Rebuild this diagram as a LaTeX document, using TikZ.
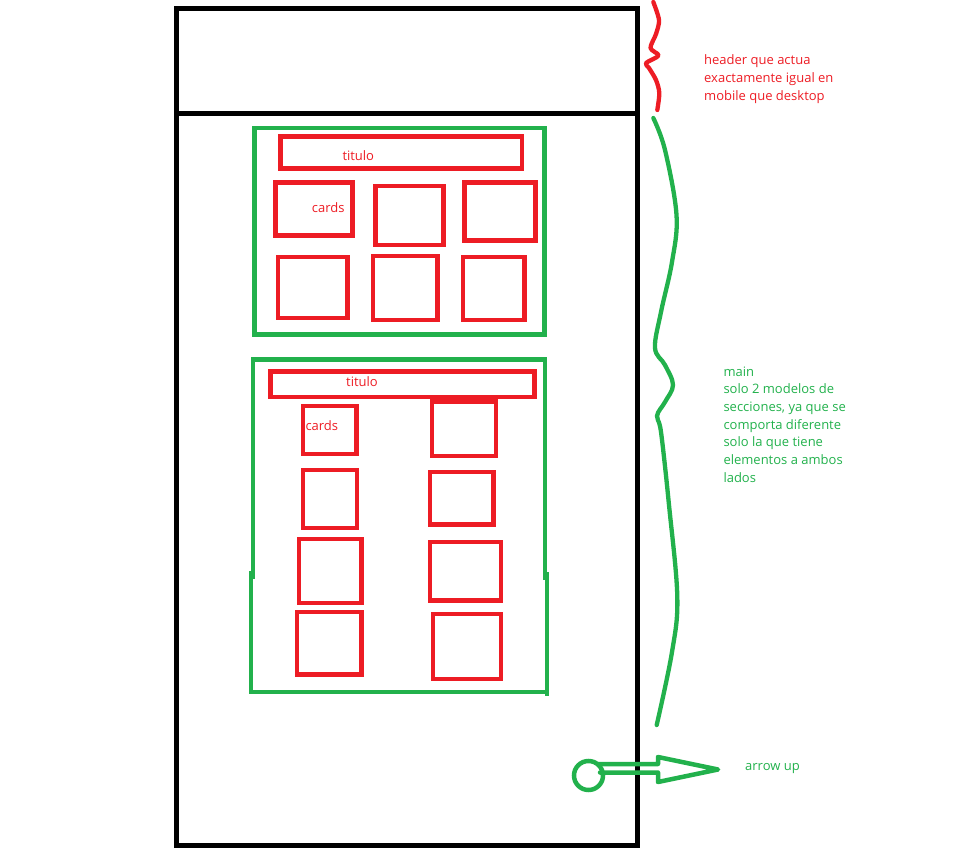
\documentclass[tikz,border=0pt]{standalone}
\usepackage{fontspec}
\setmainfont{Open Sans}
\usetikzlibrary{fit}
\definecolor{pred}{RGB}{237,28,36}
\definecolor{pgreen}{RGB}{34,177,76}
\tikzset{
  blackline/.style={draw=black, line width=5pt},
  redbox/.style={draw=pred, line width=4.5pt, inner sep=0pt, outer sep=0pt},
  greenbox/.style={draw=pgreen, line width=4.3pt, inner sep=0pt, outer sep=0pt},
  redline/.style={draw=pred, line width=4.3pt, line cap=round, line join=round},
  greenline/.style={draw=pgreen, line width=4.3pt, line cap=round, line join=round},
  redtxt/.style={text=pred, font=\fontsize{13}{17.5}\selectfont, inner sep=0pt, anchor=base west},
  greentxt/.style={text=pgreen, font=\fontsize{13}{17.5}\selectfont, inner sep=0pt, anchor=base west},
}
\begin{document}
\begin{tikzpicture}[x=1pt,y=-1pt]
\useasboundingbox (0,0) rectangle (972,859);
% outer frame
\node[draw=black, line width=5pt, inner sep=0pt, fit={(176.5,9) (637.5,845)}] (frame) {};
\draw[blackline] (176.5,113) coordinate (hl) -- (637.5,113) coordinate (hr);

% section 1
\node[greenbox, fit={(254.5,128) (544.5,334.5)}] (sec1) {};
\node[redbox, fit={(280.5,136.5) (522,168.5)}] (tit1) {};
\node[redbox, fit={(275.5,182.5) (352.5,235.5)}] (a1) {};
\node[redbox, fit={(375.5,186) (443.5,245)}] (a2) {};
\node[redbox, fit={(464.5,182.5) (535.5,240.5)}] (a3) {};
\node[redbox, fit={(278,257) (347.5,318)}] (a4) {};
\node[redbox, fit={(373,256) (437.5,320)}] (a5) {};
\node[redbox, fit={(463,257) (524.5,320)}] (a6) {};
\node[redtxt] (tt1) at (342.3,160.7) {titulo};
\node[redtxt] (ct1) at (311.7,212.7) {cards};

% section 2
\draw[draw=pgreen, line width=4.3pt] (253,579) -- (253,359.5) -- (545,359.5) -- (545,580);
\draw[draw=pgreen, line width=4.3pt] (251.3,571) -- (251.3,692) -- (547,692);
\draw[draw=pgreen, line width=4.3pt] (547,572) -- (547,696);
\node[redbox, fit={(270.5,371.5) (534.5,397)}] (tit2) {};
\node[redbox, fit={(303,406) (356.5,454)}] (b1) {};
\node[redbox, fit={(303,470) (357,528)}] (b2) {};
\node[redbox, fit={(299,539) (361.5,603)}] (b3) {};
\node[redbox, fit={(297,612) (361.5,674.5)}] (b4) {};
\node[redbox, fit={(432,401.5) (496,456)}] (c1) {};
\node[redbox, fit={(430,472) (493.5,524.5)}] (c2) {};
\node[redbox, fit={(430,542) (501,600.5)}] (c3) {};
\node[redbox, fit={(433,614) (501,679)}] (c4) {};
\node[redtxt] (tt2) at (346,386) {titulo};
\node[redtxt] (ct2) at (305.3,430) {cards};

% red brace (header)
\draw[redline] plot[smooth, tension=0.5] coordinates {(653.3,2) (659,20) (656,34) (650.5,48) (658.5,55.5) (646,63) (649,68) (656,80) (659.3,93) (657.3,110)};
% green brace (main)
\draw[greenline] plot[smooth, tension=0.6] coordinates {(653.3,118) (665,150) (676.5,215) (672,262) (661,312) (655,348) (665,365) (673,385) (665,402) (657,416) (661,432) (669,505) (677.3,596.7) (672,652) (656.7,725)};

% header text
\node[redtxt] (h1) at (704,65) {header que actua};
\node[redtxt] (h2) at (704,82.5) {exactamente igual en};
\node[redtxt] (h3) at (704,100) {mobile que desktop};

% main text
\node[greentxt] (m1) at (723.3,376) {main};
\node[greentxt] (m2) at (723.3,393.7) {solo 2 modelos de};
\node[greentxt] (m3) at (723.3,411.4) {secciones, ya que se};
\node[greentxt] (m4) at (723.3,429.1) {comporta diferente};
\node[greentxt] (m5) at (723.3,446.8) {solo la que tiene};
\node[greentxt] (m6) at (723.3,464.5) {elementos a ambos};
\node[greentxt] (m7) at (723.3,482.2) {lados};

% arrow up button
\node[draw=pgreen, line width=4.5pt, circle, minimum size=29pt, inner sep=0pt] (circ) at (588.5,775.5) {};
\draw[draw=pgreen, line width=4.5pt, line join=round, line cap=round] (circ.center) ++(10,-11.5) coordinate (s0)
  (s0) -- (658,764) -- (658,757) -- (718,769.5) coordinate (tip) -- (658,782) -- (658,772.5) -- (600,772.5);
\node[greentxt] (au) at (745,770) {arrow up};
\end{tikzpicture}
\end{document}
